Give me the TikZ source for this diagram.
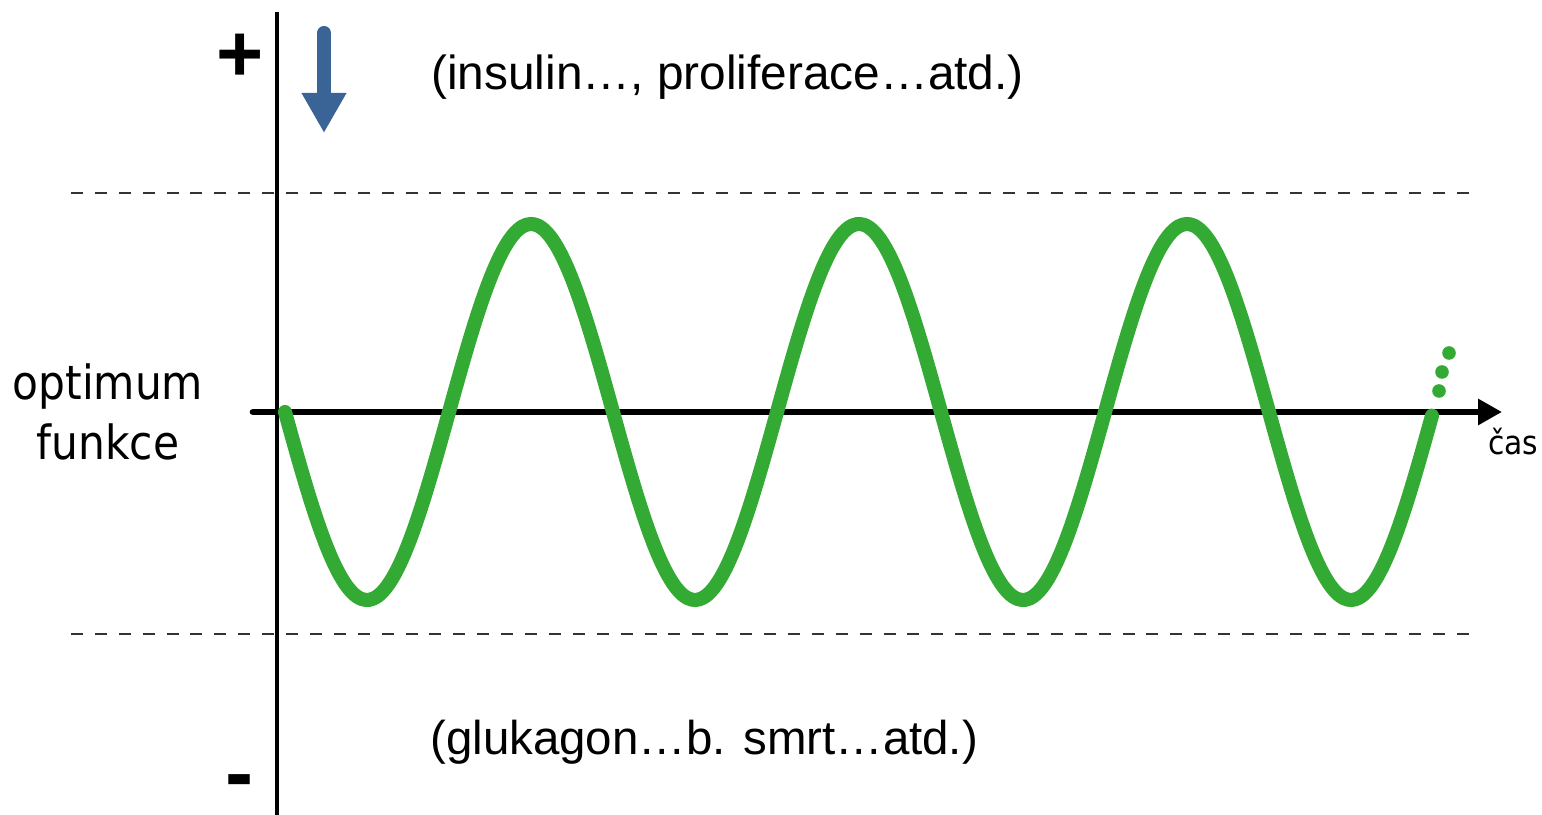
\documentclass[tikz,border=0pt]{standalone}
\usepackage{fontspec}
\setmainfont{Liberation Sans}
\newfontfamily\labelfont{DejaVu Sans Condensed}
\usepackage{tikz}
\usetikzlibrary{arrows.meta, positioning, calc}

\definecolor{wavegreen}{RGB}{51,170,51}
\definecolor{arrowblue}{RGB}{58,100,150}

\begin{document}
\begin{tikzpicture}[>=Stealth, thick]
    \useasboundingbox (-2.77,-4.03) rectangle (12.65,4.12);
    % Limits
    \draw [dash pattern=on 3.4pt off 3.4pt, line width=0.6pt, black!80] (-2.06,2.19) -- (12.04,2.19);
    \draw [dash pattern=on 3.4pt off 3.4pt, line width=0.6pt, black!80] (-2.06,-2.22) -- (12.04,-2.22);
    
    % Axes
    \coordinate (top) at (0,4.00);
    \coordinate (bottom) at (0,-4.03);
    \coordinate (left) at (-0.24,0);
    \coordinate (right) at (12.25,0);
    \draw [line width=1.1pt] (top) -- (bottom);
    \draw [line width=1.9pt, line cap=round, -{Triangle[length=0.24cm, width=0.25cm]}] (left) -- (right);
    
    % Wave
    \draw [wavegreen, line width=4pt, line cap=round] plot[domain=0.08:11.55, samples=300, smooth] (\x, {-1.88*sin(360*(\x-0.08)/3.28)});
    \foreach \p in {(11.62,0.21), (11.65,0.40), (11.72,0.59)}
        \fill [wavegreen] \p circle (0.068);
    
    % Arrow
    \draw [arrowblue, line width=0.14cm, line cap=round, -{Triangle[length=0.4cm, width=0.42cm]}] (0.47,3.79) -- (0.47,2.79);
    
    % Labels
    \node (plus) [font=\fontsize{23}{23}\selectfont\bfseries] at (-0.37,3.54) {+};
    \node (minus) [font=\fontsize{24}{24}\selectfont\bfseries] at (-0.37,-3.76) {-};
    \node (upper) [anchor=base west, inner sep=0, font=\fontsize{13.6}{16}\selectfont] at (1.53,3.22) {(insulin…, proliferace…atd.)};
    \node (lower) [anchor=base west, inner sep=0, font=\fontsize{13.5}{16}\selectfont] at (1.52,-3.43) {(glukagon…b. smrt…atd.)};
    \node (optimum) [anchor=base, inner sep=0, font=\labelfont\fontsize{13.4}{16}\selectfont] at (-1.69,0.12) {optimum};
    \node (funkce) [anchor=base, inner sep=0, font=\labelfont\fontsize{13.4}{16}\selectfont] at ([yshift=-0.6cm]optimum.base) {funkce};
    \node (cas) [anchor=base west, inner sep=0, font=\labelfont\fontsize{9.4}{11}\selectfont] at (12.10,-0.43) {čas};
\end{tikzpicture}
\end{document}
